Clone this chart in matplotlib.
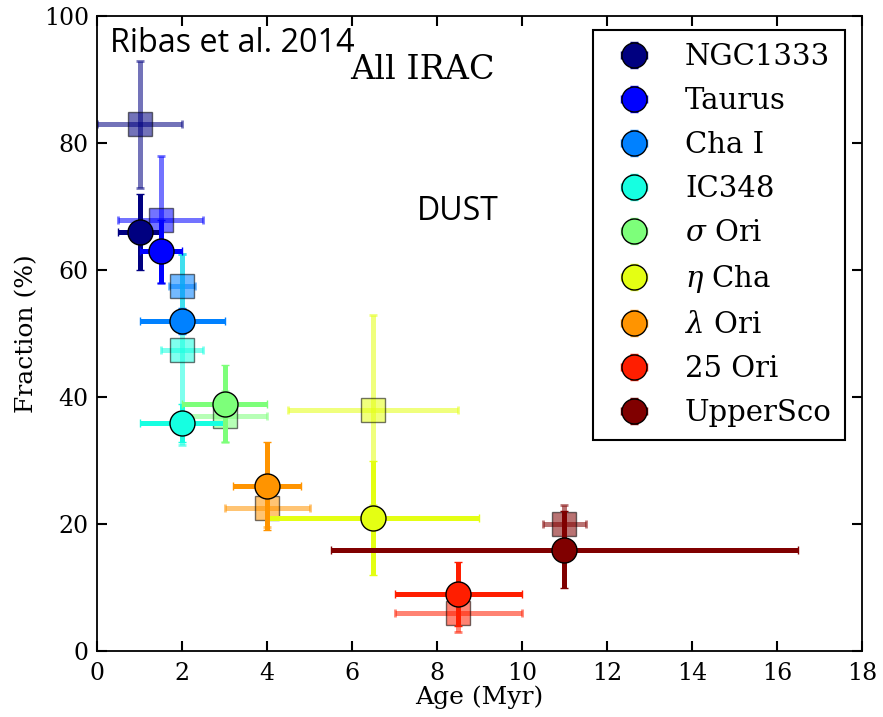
import matplotlib
matplotlib.use("Agg")
import matplotlib.pyplot as plt
from matplotlib.legend_handler import HandlerErrorbar
from matplotlib.container import ErrorbarContainer
import numpy as np

names = ['NGC1333', 'Taurus', 'Cha I', 'IC348', r'$\sigma$ Ori', r'$\eta$ Cha',
         r'$\lambda$ Ori', '25 Ori', 'UpperSco']
age = [1, 1.5, 2, 2, 3, 6.5, 4, 8.5, 11]
age_err = [0.5, 0.5, 1, 1, 1, 2.5, 0.8, 1.5, 5.5]
frac_circ = [66, 63, 52, 36, 39, 21, 26, 9, 16]
frac_circ_err = [6, 5, 2, 3, 6, 9, 7, 5, 6]
sq_age_err = [1, 1, 0.3, 0.5, 1, 2, 1, 1.5, 0.5]
frac_sq = [83, 68, 57.5, 47.5, 37, 38, 22.5, 6, 20]
frac_sq_err = [10, 10, 5, 15, 4, 15, 3, 3, 3]

plt.rcParams['font.family'] = ['DejaVu Serif']
plt.rcParams['mathtext.fontset'] = 'dejavuserif'

fig = plt.figure(figsize=(8.83, 7.17), dpi=100)
ax = fig.add_axes([0.11, 0.092, 0.866, 0.885])

cmap = plt.get_cmap('jet')
colors = [cmap(i / (len(names) - 1)) for i in range(len(names))]

for i in range(len(names)):
    c = colors[i]
    ax.errorbar(age[i], frac_sq[i], xerr=sq_age_err[i], yerr=frac_sq_err[i],
                fmt='s', color=c, ecolor=c, mfc=c, mec='black', ms=17,
                elinewidth=3.6, capsize=3, capthick=2, alpha=0.55, zorder=2)

handles = []
for i in range(len(names)):
    c = colors[i]
    h = ax.errorbar(age[i], frac_circ[i], xerr=age_err[i], yerr=frac_circ_err[i],
                    fmt='o', color=c, ecolor=c, mfc=c, mec='black', mew=1.0, ms=18,
                    elinewidth=3.6, capsize=3, capthick=2, zorder=3, label=names[i])
    handles.append(h)

ax.set_xlim(0, 18)
ax.set_ylim(0, 100)
ax.set_xticks(np.arange(0, 19, 2))
ax.set_yticks(np.arange(0, 101, 20))
ax.tick_params(direction='in', length=7, width=1.5, top=True, right=True,
               labelsize=17)
ax.tick_params(axis='x', pad=8)
ax.tick_params(axis='y', pad=6)
for lab in ax.get_xticklabels() + ax.get_yticklabels():
    lab.set_fontfamily('DejaVu Serif')
for s in ax.spines.values():
    s.set_linewidth(1.3)
ax.set_xlabel('Age (Myr)', fontsize=18, labelpad=0)
ax.set_ylabel('Fraction (%)', fontsize=18, labelpad=4)

ax.text(7.65, 91.6, 'All IRAC', fontsize=24, ha='center', va='center')
ax.text(8.5, 69.3, 'DUST', fontsize=23, ha='center', va='center',
        family=['Open Sans', 'DejaVu Sans'])
fig.text(0.125, 0.939, 'Ribas et al. 2014', fontsize=23.3, ha='left', va='center',
         family=['Open Sans', 'DejaVu Sans'])

leg = ax.legend(handles=handles, loc='upper right', numpoints=1, fontsize=21,
                labelspacing=0.55, handletextpad=0.8, borderpad=0.45,
                handlelength=1.9, borderaxespad=0.0,
                fancybox=False, framealpha=1, edgecolor='black',
                bbox_to_anchor=(0.978, 0.979),
                handler_map={ErrorbarContainer: HandlerErrorbar(xerr_size=0.45, yerr_size=0.45)})
leg.get_frame().set_linewidth(1.5)

fig.savefig('out.png', dpi=100)
